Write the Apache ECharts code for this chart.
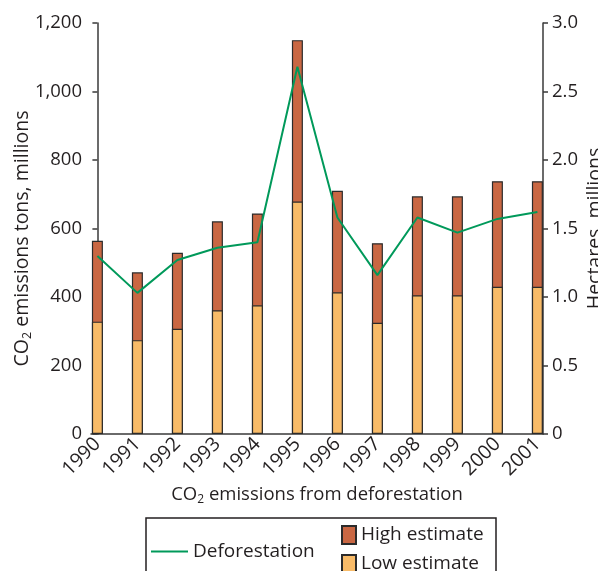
<!DOCTYPE html>
<html><head><meta charset="utf-8">
<script src="https://cdn.jsdelivr.net/npm/echarts@6/dist/echarts.min.js"></script>
<style>html,body{margin:0;padding:0;background:#fff}#c{width:598px;height:571px}</style>
</head><body><div id="c"></div>
<script>
const years = ['1990','1991','1992','1993','1994','1995','1996','1997','1998','1999','2000','2001'];
const lowEstimate = [328, 274, 307, 361, 376, 679, 414, 325, 405, 405, 430, 430];
const highEstimate = [564, 472, 529, 621, 644, 1150, 710, 557, 694, 694, 738, 738];
const deforestation = [1.30, 1.03, 1.27, 1.36, 1.40, 2.68, 1.58, 1.16, 1.58, 1.47, 1.57, 1.62];
const leftTicks = [0, 200, 400, 600, 800, 1000, 1200];
const rightTicks = [0, 0.5, 1.0, 1.5, 2.0, 2.5, 3.0];

const FONT = 'Open Sans';
const FS = 18.5;
const TXT = '#231f20';
const AX = '#3a3a3a';
const idx = years.map((_, i) => i);

const chart = echarts.init(document.getElementById('c'), null, {renderer: 'canvas'});
chart.setOption({
  animation: false,
  textStyle: {fontFamily: FONT, color: TXT},
  grid: {left: 91, right: 55, top: 23, bottom: 137, containLabel: false, outerBoundsMode: 'none'},
  xAxis: {
    type: 'value', min: -0.16, max: 11.14,
    axisLine: {show: true, lineStyle: {color: AX, width: 1.5}},
    axisTick: {show: false},
    splitLine: {show: false},
    axisLabel: {
      customValues: idx, rotate: 45, margin: 7, fontSize: 19.5, color: TXT, fontFamily: FONT,
      formatter: v => years[Math.round(v)] || ''
    },
    name: '{a|CO}{s|2}{a| emissions from deforestation}',
    nameLocation: 'middle', nameGap: 50, nameMoveOverlap: false,
    nameTextStyle: {rich: {a: {fontSize: FS, color: TXT, fontFamily: FONT}, s: {fontSize: 12, color: TXT, fontFamily: FONT, padding: [10, 0, 0, 0]}}}
  },
  yAxis: [{
    type: 'value', min: 0, max: 1200, interval: 200, position: 'left',
    axisLine: {show: true, lineStyle: {color: AX, width: 1.5}},
    axisTick: {show: true, length: 5, lineStyle: {color: AX, width: 1.5}},
    splitLine: {show: false},
    axisLabel: {fontSize: FS, color: TXT, margin: 9, fontFamily: FONT,
      customValues: leftTicks,
      formatter: v => v.toLocaleString('en-US')},
    name: '{a|CO}{s|2}{a| emissions tons, millions}',
    nameLocation: 'middle', nameGap: 57, nameRotate: 90, nameMoveOverlap: false,
    nameTextStyle: {padding: [0, 20, 0, 0], rich: {a: {fontSize: 19.5, color: TXT, fontFamily: FONT}, s: {fontSize: 12.5, color: TXT, fontFamily: FONT, padding: [10, 0, 0, 0]}}}
  }, {
    type: 'value', min: 0, max: 3, interval: 0.5, position: 'right',
    axisLine: {show: true, lineStyle: {color: AX, width: 1.5}},
    axisTick: {show: true, length: 5, lineStyle: {color: AX, width: 1.5}},
    splitLine: {show: false},
    axisLabel: {fontSize: FS, color: TXT, margin: 9, fontFamily: FONT,
      customValues: rightTicks,
      formatter: v => v === 0 ? '0' : v.toFixed(1)},
    name: 'Hectares, millions',
    nameLocation: 'middle', nameGap: 42, nameRotate: 90, nameMoveOverlap: false,
    nameTextStyle: {fontSize: 19.5, color: TXT, fontFamily: FONT}
  }],
  legend: [{
    data: [{name: 'Deforestation', icon: 'rect'}], left: 151, top: 542, padding: 0,
    itemWidth: 37, itemHeight: 2,
    itemStyle: {color: '#00995a', borderWidth: 0},
    textStyle: {fontSize: 19, color: TXT, fontFamily: FONT}
  }, {
    data: [{name: 'High estimate', icon: 'rect'}, {name: 'Low estimate', icon: 'rect'}],
    orient: 'vertical', left: 341, top: 525, padding: 0, height: 120,
    itemWidth: 14, itemHeight: 18, itemGap: 9,
    textStyle: {fontSize: 19, color: TXT, fontFamily: FONT}
  }],
  graphic: [{
    type: 'rect', shape: {x: 146, y: 518, width: 350, height: 80},
    style: {fill: 'none', stroke: '#231f20', lineWidth: 1.5}, silent: true
  }],
  series: [{
    name: 'High estimate', type: 'bar', barWidth: 11,
    data: idx.map(i => [i, highEstimate[i]]),
    itemStyle: {color: '#c96743', borderColor: '#2b2b2b', borderWidth: 1.2}
  }, {
    name: 'Low estimate', type: 'bar', barWidth: 11, barGap: '-100%',
    data: idx.map(i => [i, lowEstimate[i]]),
    itemStyle: {color: '#f8bb68', borderColor: '#2b2b2b', borderWidth: 1.2}
  }, {
    name: 'Deforestation', type: 'line', yAxisIndex: 1, symbol: 'none',
    data: idx.map(i => [i, deforestation[i]]),
    lineStyle: {color: '#00995a', width: 2},
    itemStyle: {color: '#00995a'}
  }]
});
</script></body></html>
